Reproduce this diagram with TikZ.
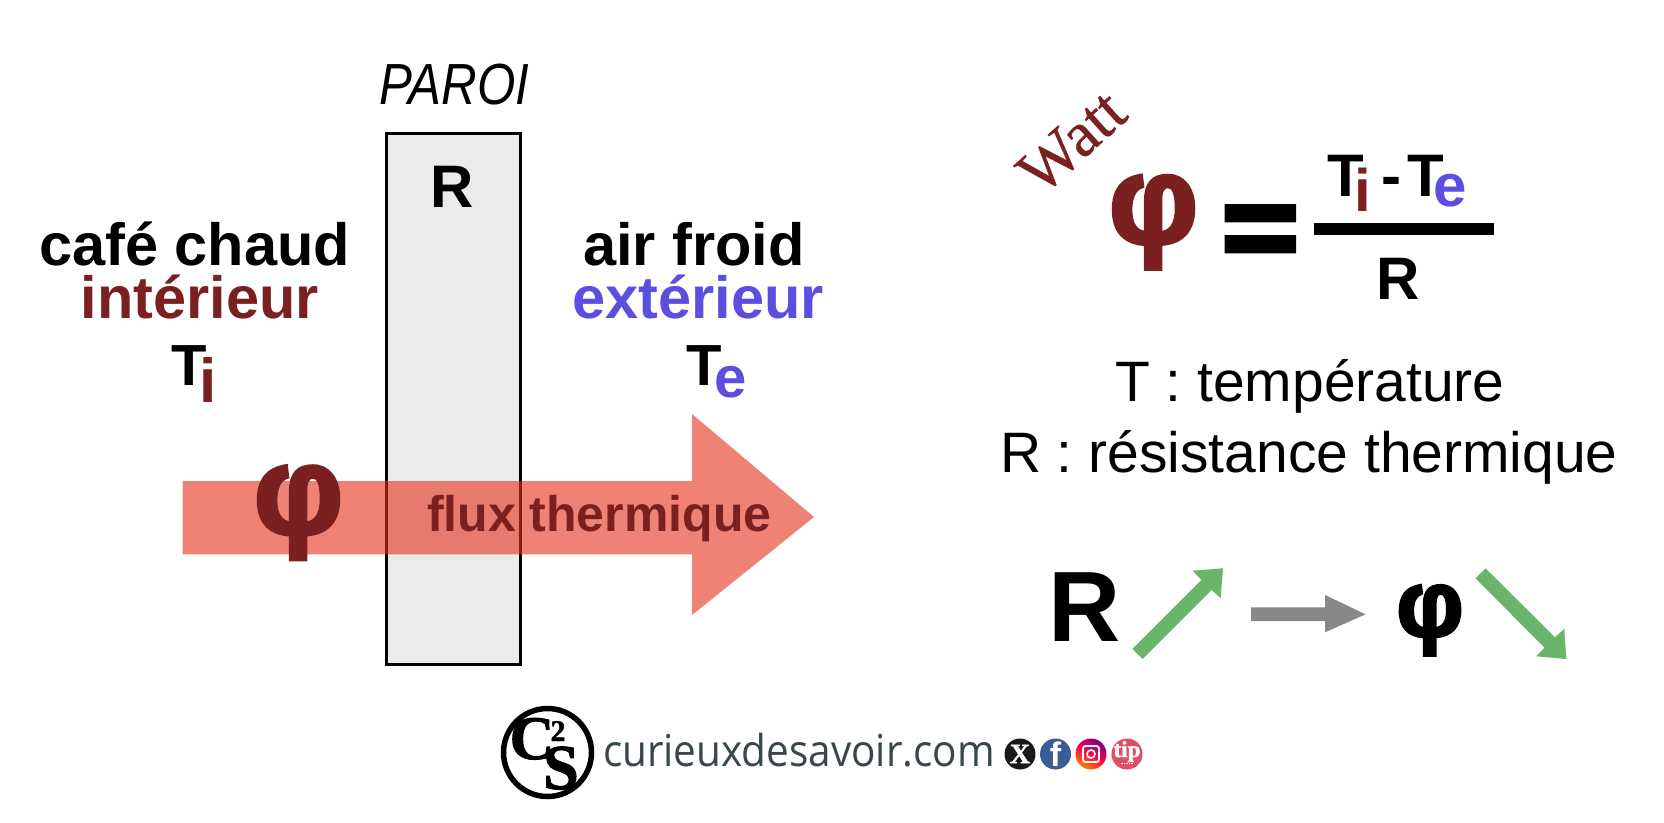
\documentclass[tikz,border=0pt]{standalone}
\usepackage{fontspec}
\setmainfont{Liberation Sans}
\newfontfamily\serifface[FakeBold=0.6]{Liberation Serif}
\newfontfamily\siteface{Open Sans}
\newfontfamily\phiface[FakeBold=3]{Liberation Sans Bold}
\newfontfamily\logoface[FakeBold=1.5]{Liberation Serif Bold}
\newcommand{\fsz}[1]{\fontsize{#1}{#1}\selectfont}
\definecolor{hotred}{HTML}{7A2020}
\definecolor{coldblue}{HTML}{5B4FE0}
\definecolor{flowred}{HTML}{E52E1A}
\definecolor{wallgray}{HTML}{EBEBEB}
\definecolor{upgreen}{HTML}{6BB56B}
\definecolor{midgray}{HTML}{888888}
\definecolor{sitegray}{HTML}{37474A}
\tikzset{
  lab/.style={inner sep=0pt,outer sep=0pt,anchor=base},
  labw/.style={lab,anchor=base west},
  bigb/.style={lab,font=\bfseries\fsz{59.5}},
  eqb/.style={labw,font=\bfseries\fsz{60}},
  plain/.style={labw,font=\fsz{57}},
  badge/.style={circle,minimum size=31pt,inner sep=0pt,outer sep=0pt,text=white},
}
\begin{document}
\begin{tikzpicture}[x=1pt,y=-1pt]
\useasboundingbox[fill=white] (0,0) rectangle (1664,822);
% wall and flow
\node[draw=black,line width=3pt,fill=wallgray,minimum width=134pt,minimum height=531.5pt,inner sep=0pt,outer sep=0pt] (wall) at (453.5,399.2) {};
\fill[flowred,opacity=.6] (182.6,481) -- (692,481) -- (692,414) -- (814,517) -- (692,615) -- (692,554.3) -- (182.6,554.3) -- cycle;
\node[labw,font=\itshape\fsz{58},xscale=.85] (paroi) at (379.5,104) {PAROI};
\node[lab,font=\bfseries\fsz{60}] (rwall) at (452,207) {R};
\node[bigb] (cafe) at (194.5,265.5) {café chaud};
\node[bigb,text=hotred] (int) at (200,318.5) {intérieur};
\node[bigb] (air) at (694,265.5) {air froid};
\node[bigb,text=coldblue] (ext) at (698,318.5) {extérieur};
\node[labw,font=\bfseries\fsz{58}] (ti) at (171,385) {T};
\node[labw,font=\bfseries\fsz{62},text=hotred] (tii) at (199.5,402) {i};
\node[labw,font=\bfseries\fsz{58}] (te) at (686,385) {T};
\node[labw,font=\bfseries\fsz{58},text=coldblue] (tee) at (714,397) {e};
\node[lab,font=\phiface\fsz{125},text=hotred] (phi1) at (298.5,533.5) {φ};
\node[labw,font=\bfseries\fsz{50},text=hotred] (flux) at (427,531.7) {flux thermique};
% formula
\node[inner sep=0pt,outer sep=0pt,font=\serifface\fsz{64},text=hotred,rotate=42] (watt) at (1072,142) {Watt};
\node[lab,font=\phiface\fsz{125},text=hotred] (phi2) at (1153.5,243) {φ};
\fill[black] (1224.5,204) rectangle (1296,222.3) (1224.5,235) rectangle (1296,253.3);
\fill[black] (1313.5,223) rectangle (1494,235.3);
\node[eqb] (t1) at (1327,196) {T};
\node[eqb,text=hotred] (i1) at (1354.5,211.7) {i};
\node[eqb] (dash) at (1381.5,196) {-};
\node[eqb] (t2) at (1407,196) {T};
\node[eqb,text=coldblue] (e1) at (1433,206.7) {e};
\node[lab,font=\bfseries\fsz{60}] (rfrac) at (1398,299.3) {R};
\node[plain] (tt) at (1115,401) {T : température};
\node[plain] (rt) at (1000,472) {R : résistance thermique};
% bottom relation
\node[lab,font=\bfseries\fsz{100}] (rbig) at (1085,641.7) {R};
\fill[upgreen] (1132.3,649) -- (1142.7,659) -- (1211.7,590) -- (1220.6,598.3) -- (1223,568.3) -- (1192.6,570.7) -- (1201.4,580) -- cycle;
\fill[midgray] (1251,607.3) -- (1325,607.3) -- (1325,595) -- (1365.5,614.3) -- (1325,632.3) -- (1325,621) -- (1251,621) -- cycle;
\node[lab,font=\phiface\fsz{94},text=black] (phi3) at (1430,636) {φ};
\fill[upgreen] (1475.5,578.3) -- (1485.5,568.3) -- (1555,637.3) -- (1564.2,628.7) -- (1566.3,659) -- (1536,656.3) -- (1544.5,647.7) -- cycle;
% logo
\node[draw=black,line width=5.5pt,circle,minimum size=88pt,inner sep=0pt] (logo) at (547.5,752.5) {};
\node[lab,font=\logoface\fsz{62}] (c) at (532,759) {C};
\node[lab,font=\logoface\fsz{30}] (two) at (558,741) {2};
\node[lab,font=\logoface\fsz{64}] (s) at (561,789) {S};
\node[labw,font=\siteface\fsz{44},text=sitegray,xscale=.92] (site) at (603,766) {curieuxdesavoir.com};
\node[badge,fill=black!90,font=\logoface\fsz{28}] (x) at (1020,754) {X};
\node[badge,fill={rgb,255:red,62;green,92;blue,148},font=\bfseries\fsz{34}] (f) at (1055.5,754) {f};
\node[badge,bottom color=orange,top color=violet,middle color=red!70!magenta,shading angle=-30] (ig) at (1091,754) {};
\draw[white,line width=1.8pt,rounded corners=2.5pt] (1083,746) rectangle (1099,762);
\draw[white,line width=1.6pt] (ig) circle (4pt);
\node[badge,fill={rgb,255:red,222;green,78;blue,100}] (tip) at (1127,754) {};
\node[lab,font=\logoface\fsz{23},text=white] (tiptext) at (1127,757) {tip};
\draw[white,line width=1pt,dash pattern=on 1.5pt off 1pt] (1121,763.5) -- (1133,763.5);
\end{tikzpicture}
\end{document}
